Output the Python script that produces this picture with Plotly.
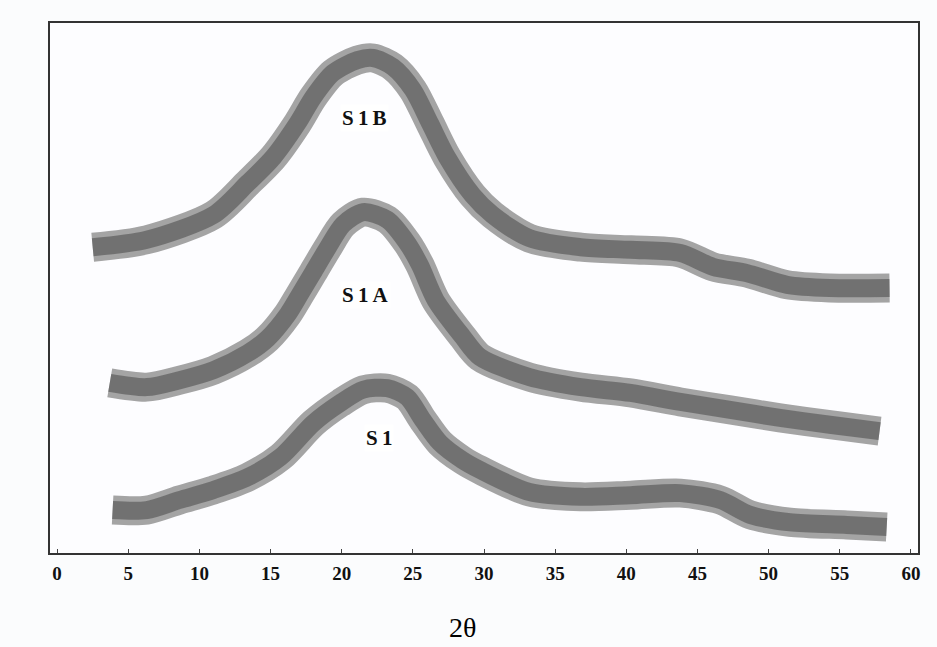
import plotly.graph_objects as go

# 2-theta positions (degrees) and relative intensities (a.u.)
s1b_x = [2.5, 6.3, 11.0, 13.4, 15.2, 16.9, 18.0, 19.4, 21.1, 22.2, 23.6, 25.0, 26.2,
         27.4, 29.2, 30.6, 33.2, 36.8, 40.3, 43.8, 46.1, 48.5, 51.3, 54.3, 58.5]
s1b_y = [57.7, 59.1, 63.8, 69.8, 74.7, 81.1, 86.0, 90.6, 93.0, 93.4, 91.7, 87.4, 81.1,
         74.7, 67.5, 63.8, 59.4, 57.7, 57.2, 56.6, 54.0, 52.8, 50.6, 50.0, 50.0]

s1a_x = [3.7, 6.3, 8.6, 11.0, 13.4, 14.8, 16.2, 17.0, 18.0, 19.0, 20.1, 21.5, 23.2,
         24.6, 25.5, 26.6, 28.5, 29.7, 33.2, 36.8, 40.3, 43.8, 47.3, 50.8, 54.3, 57.8]
s1a_y = [32.1, 31.3, 32.6, 34.5, 37.7, 40.5, 45.0, 48.5, 53.0, 57.5, 62.0, 64.3, 62.9,
         58.5, 54.3, 47.7, 40.8, 37.0, 33.2, 31.3, 30.2, 28.5, 27.0, 25.5, 24.2, 23.0]

s1_x = [3.9, 6.3, 8.6, 11.0, 13.4, 15.7, 18.0, 19.9, 21.5, 23.2, 24.6, 25.7, 26.9,
        28.5, 29.7, 33.2, 36.8, 40.3, 43.8, 46.6, 48.7, 51.5, 55.5, 58.3]
s1_y = [8.1, 8.1, 10.0, 11.9, 14.3, 18.1, 24.5, 28.3, 30.8, 31.1, 29.4, 25.1, 20.8,
        17.5, 15.7, 11.5, 10.6, 10.9, 11.3, 10.0, 7.2, 5.8, 5.3, 4.9]

labels = ["S1B", "S1A", "S1"]
label_x = [21.6, 21.7, 22.6]
label_y = [82.1, 48.7, 21.7]

tick_vals = [0, 5, 10, 15, 20, 25, 30, 35, 40, 45, 50, 55, 60]
x_title = "2\u03b8"

fig = go.Figure()
for xs, ys in [(s1b_x, s1b_y), (s1a_x, s1a_y), (s1_x, s1_y)]:
    fig.add_trace(go.Scatter(x=xs, y=ys, mode="lines",
                             line=dict(color="rgba(125,125,125,0.7)", width=29, shape="spline", smoothing=0.8),
                             hoverinfo="skip", showlegend=False))
    fig.add_trace(go.Scatter(x=xs, y=ys, mode="lines",
                             line=dict(color="rgba(80,80,80,0.6)", width=18, shape="spline", smoothing=0.8),
                             showlegend=False))

for t, lx, ly in zip(labels, label_x, label_y):
    fig.add_annotation(x=lx, y=ly, text="<b>" + "\u2009".join(t) + "</b>", showarrow=False,
                       font=dict(family="Liberation Serif", size=21, color="#111"),
                       bgcolor="rgba(255,255,255,0.9)")

fig.add_annotation(x=0.475, y=-0.141, xref="paper", yref="paper", text=x_title, showarrow=False,
                   xanchor="center", yanchor="middle",
                   font=dict(family="Liberation Serif", size=28, color="#000"))

fig.update_layout(
    width=937, height=647,
    margin=dict(l=50, r=19, t=23, b=94),
    paper_bgcolor="#fbfcfd", plot_bgcolor="#fdfdff",
    showlegend=False,
)
fig.update_xaxes(range=[-0.5, 60.5], tickvals=tick_vals,
                 ticktext=[f"<b>{v}</b>" for v in tick_vals],
                 tickfont=dict(family="Liberation Serif", size=19, color="#111"),
                 ticks="inside", ticklen=4, tickcolor="#444",
                 ticklabelstandoff=2, automargin=False,
                 showline=True, linecolor="#333", linewidth=2, mirror=True,
                 showgrid=False, zeroline=False)
fig.update_yaxes(range=[0, 100], showticklabels=False, ticks="", automargin=False,
                 showline=True, linecolor="#333", linewidth=2, mirror=True,
                 showgrid=False, zeroline=False)

fig.write_html("out.html")
